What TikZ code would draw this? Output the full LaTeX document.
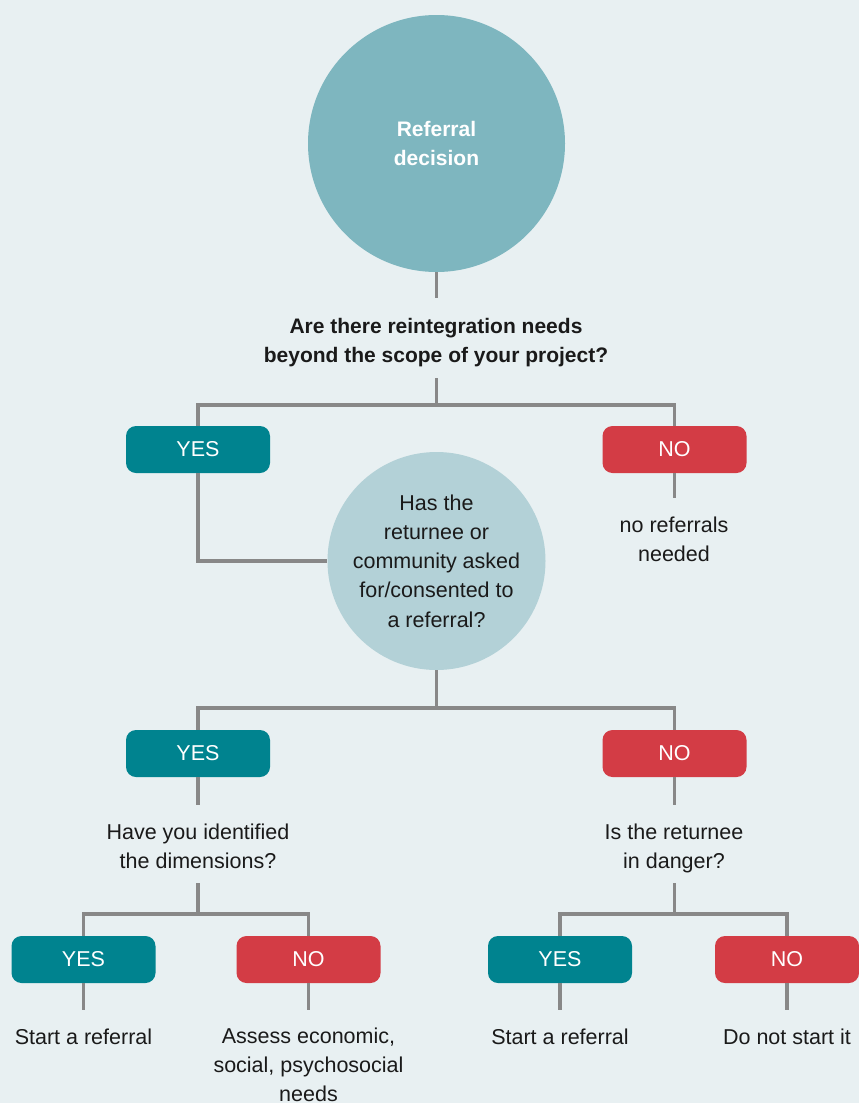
\documentclass[tikz,border=0pt]{standalone}
\usepackage{fontspec}
\setmainfont{Liberation Sans}

\definecolor{pagebg}{HTML}{E8F0F2}
\definecolor{bigdisc}{HTML}{7EB6BF}
\definecolor{smalldisc}{HTML}{B3D1D7}
\definecolor{yesfill}{HTML}{00838F}
\definecolor{nofill}{HTML}{D33C45}
\definecolor{wire}{HTML}{888888}
\definecolor{ink}{HTML}{1A1A1A}

\newcommand{\bodyfont}{\fontsize{21.5}{29.3}\selectfont}
\newcommand{\headfont}{\fontsize{21}{29.3}\selectfont\bfseries}
% centred block of lines whose baseline is that of its first line
\newcommand{\linesblock}[1]{\begin{tabular}[t]{@{}c@{}}#1\end{tabular}}

\begin{document}
\begin{tikzpicture}[x=1pt,y=-1pt,
  conn/.style={draw=wire,line width=3.8pt,line join=miter},
  answer/.style={rounded corners=10pt,minimum width=144pt,minimum height=47pt,
    inner sep=0pt,text=white,font=\bodyfont},
  yesbox/.style={answer,fill=yesfill},
  nobox/.style={answer,fill=nofill},
  caption/.style={anchor=base,inner sep=0pt,text=ink,font=\bodyfont},
  disc/.style={circle,inner sep=0pt,align=center}]

  % page
  \fill[pagebg] (0,0) rectangle (859,1103);
  \useasboundingbox (0,0) rectangle (859,1103);

  % start disc and main question
  \node[disc,fill=bigdisc,minimum size=257pt,text=white,font=\headfont] (start) at (436.5,143.5) {Referral\\decision};
  \node[caption,font=\headfont] (q1) at (436,333) {\linesblock{Are there reintegration needs\\beyond the scope of your project?}};

  % first answers
  \node[yesbox] (y1) at (198,449.5) {YES};
  \node[nobox] (n1) at (674.5,449.5) {NO};
  \node[caption] (r1) at (674,532) {\linesblock{no referrals\\needed}};

  % consent disc
  \node[disc,fill=smalldisc,minimum size=218pt,text=ink,font=\bodyfont] (consent) at (436.5,561) {Has the\\returnee or\\community asked\\for/consented to\\a referral?};

  % second answers
  \node[yesbox] (y2) at (198,753.5) {YES};
  \node[nobox] (n2) at (674.5,753.5) {NO};
  \node[caption] (q2) at (198,839) {\linesblock{Have you identified\\the dimensions?}};
  \node[caption] (q3) at (674,839) {\linesblock{Is the returnee\\in danger?}};

  % third answers
  \node[yesbox] (y3) at (83.5,959.5) {YES};
  \node[nobox] (n3) at (308.5,959.5) {NO};
  \node[yesbox] (y4) at (560,959.5) {YES};
  \node[nobox] (n4) at (787,959.5) {NO};

  % outcomes
  \node[caption] (o1) at (83.5,1044) {Start a referral};
  \node[caption] (o2) at (308.5,1043) {\linesblock{Assess economic,\\social, psychosocial\\needs}};
  \node[caption] (o3) at (560,1044) {Start a referral};
  \node[caption] (o4) at (787,1044) {Do not start it};

  % connector end points around the texts and the branch points
  \coordinate (q1in) at (436.5,298);
  \coordinate (q1out) at (436.5,378);
  \coordinate (fork1) at (436.5,405);
  \coordinate (r1in) at (674.5,498);
  \coordinate (fork2) at (436.5,708);
  \coordinate (q2in) at (198,805);
  \coordinate (q2out) at (198,883);
  \coordinate (fork3) at (198,914);
  \coordinate (q3in) at (674.5,805);
  \coordinate (q3out) at (674.5,883);
  \coordinate (fork4) at (674.5,914);
  \coordinate (o1in) at (83.5,1010);
  \coordinate (o2in) at (308.5,1010);
  \coordinate (o3in) at (560,1010);
  \coordinate (o4in) at (787,1010);

  % connectors
  \draw[conn] (start.south) -- (q1in);
  \draw[conn] (q1out) -- (fork1);
  \draw[conn] (y1.north) |- (fork1) -| (n1.north);
  \draw[conn] (n1.south) -- (r1in);
  \draw[conn] (y1.south) |- (consent.west);
  \draw[conn] (consent.south) -- (fork2);
  \draw[conn] (y2.north) |- (fork2) -| (n2.north);
  \draw[conn] (y2.south) -- (q2in);
  \draw[conn] (q2out) -- (fork3);
  \draw[conn] (y3.north) |- (fork3) -| (n3.north);
  \draw[conn] (n2.south) -- (q3in);
  \draw[conn] (q3out) -- (fork4);
  \draw[conn] (y4.north) |- (fork4) -| (n4.north);
  \draw[conn] (y3.south) -- (o1in);
  \draw[conn] (n3.south) -- (o2in);
  \draw[conn] (y4.south) -- (o3in);
  \draw[conn] (n4.south) -- (o4in);
\end{tikzpicture}
\end{document}
